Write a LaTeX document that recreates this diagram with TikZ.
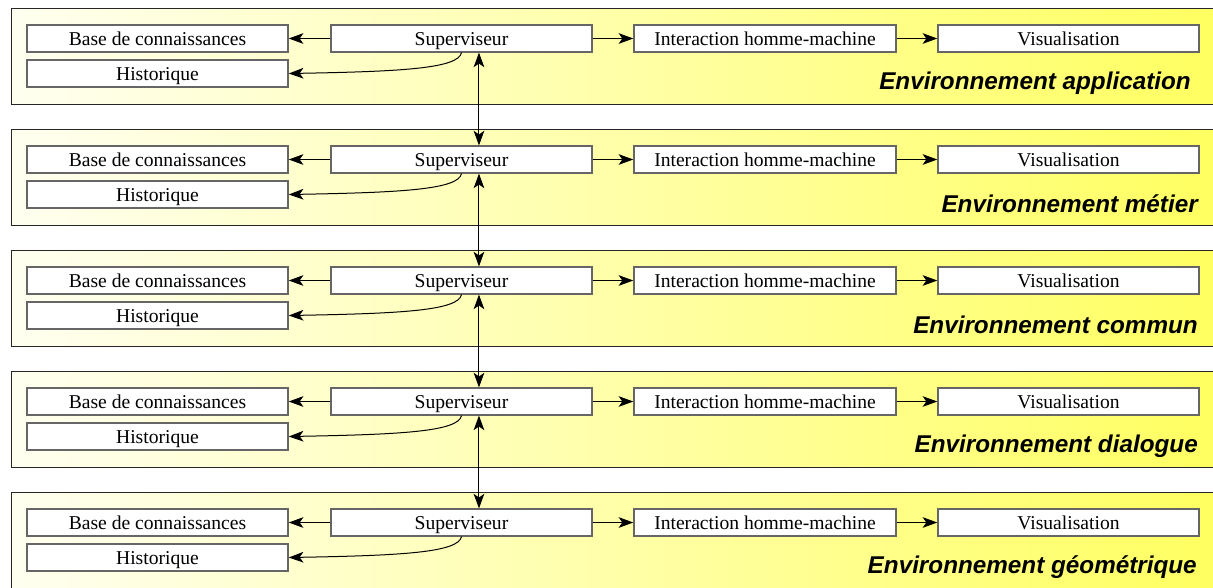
\documentclass[tikz,border=0pt]{standalone}
\usepackage{fontspec}
\setmainfont{Liberation Serif}
\newfontfamily\envfont{Liberation Sans}
\usetikzlibrary{arrows.meta}
\definecolor{paneLeft}{RGB}{255,255,240}
\definecolor{paneRight}{RGB}{255,255,96}
\begin{document}
\begin{tikzpicture}[x=0.75pt,y=-0.75pt,
  panel/.style={draw=black!85, line width=0.8pt, left color=paneLeft, right color=paneRight,
    minimum width=910pt, minimum height=72pt, inner sep=0pt, anchor=north west},
  box/.style={draw=black!60, line width=1.1pt, fill=white, minimum width=195.75pt,
    minimum height=20pt, inner sep=0pt, text height=11.9pt, text depth=2.1pt,
    font=\fontsize{14.7pt}{16pt}\selectfont},
  envlabel/.style={anchor=east, inner sep=0pt,
    font=\envfont\bfseries\itshape\fontsize{18.2pt}{20pt}\selectfont},
  tip/.tip={Stealth[length=11pt,width=8pt,inset=2.8pt]},
  link/.style={-tip, line width=0.75pt, black},
  dlink/.style={tip-tip, line width=0.75pt, black},
]
\useasboundingbox (0,0) rectangle (1213,587);
\clip (0,0) rectangle (1213,587);
\fill[white] (0,0) rectangle (1213,587);

% one environment per layer
\foreach \i/\t/\envname/\rx in {1/8/application/1191, 2/129/métier/1198,
    3/250/commun/1198, 4/371/dialogue/1198, 5/492/géométrique/1197}{
  \node[panel] (panel\i) at (10.5,\t) {};
  \node[box] (base\i) at (157.5,\t+30.5) {Base de connaissances};
  \node[box] (hist\i) at (157.5,\t+65.5) {Historique};
  \node[box] (sup\i)  at (461.5,\t+30.5) {Superviseur};
  \node[box, minimum width=196.5pt] (ihm\i) at (765,\t+30.5) {Interaction homme-machine};
  \node[box] (vis\i)  at (1068.5,\t+30.5) {Visualisation};
  \node[envlabel] (env\i) at (\rx,\t+75) {Environnement \envname};
  \draw[link] (sup\i.west) -- (base\i.east);
  \draw[link] (sup\i.east) -- (ihm\i.west);
  \draw[link] (ihm\i.east) -- (vis\i.west);
  \draw[link] (sup\i.south) .. controls +(-3,16) and +(112,-2) .. (hist\i.east);
}

% supervisors linked from one layer to the next
\foreach \i/\j in {1/2, 2/3, 3/4, 4/5}{
  \draw[dlink] ([xshift=13.1pt]sup\i.south) -- ([xshift=13.1pt]sup\j.north);
}
\end{tikzpicture}
\end{document}
